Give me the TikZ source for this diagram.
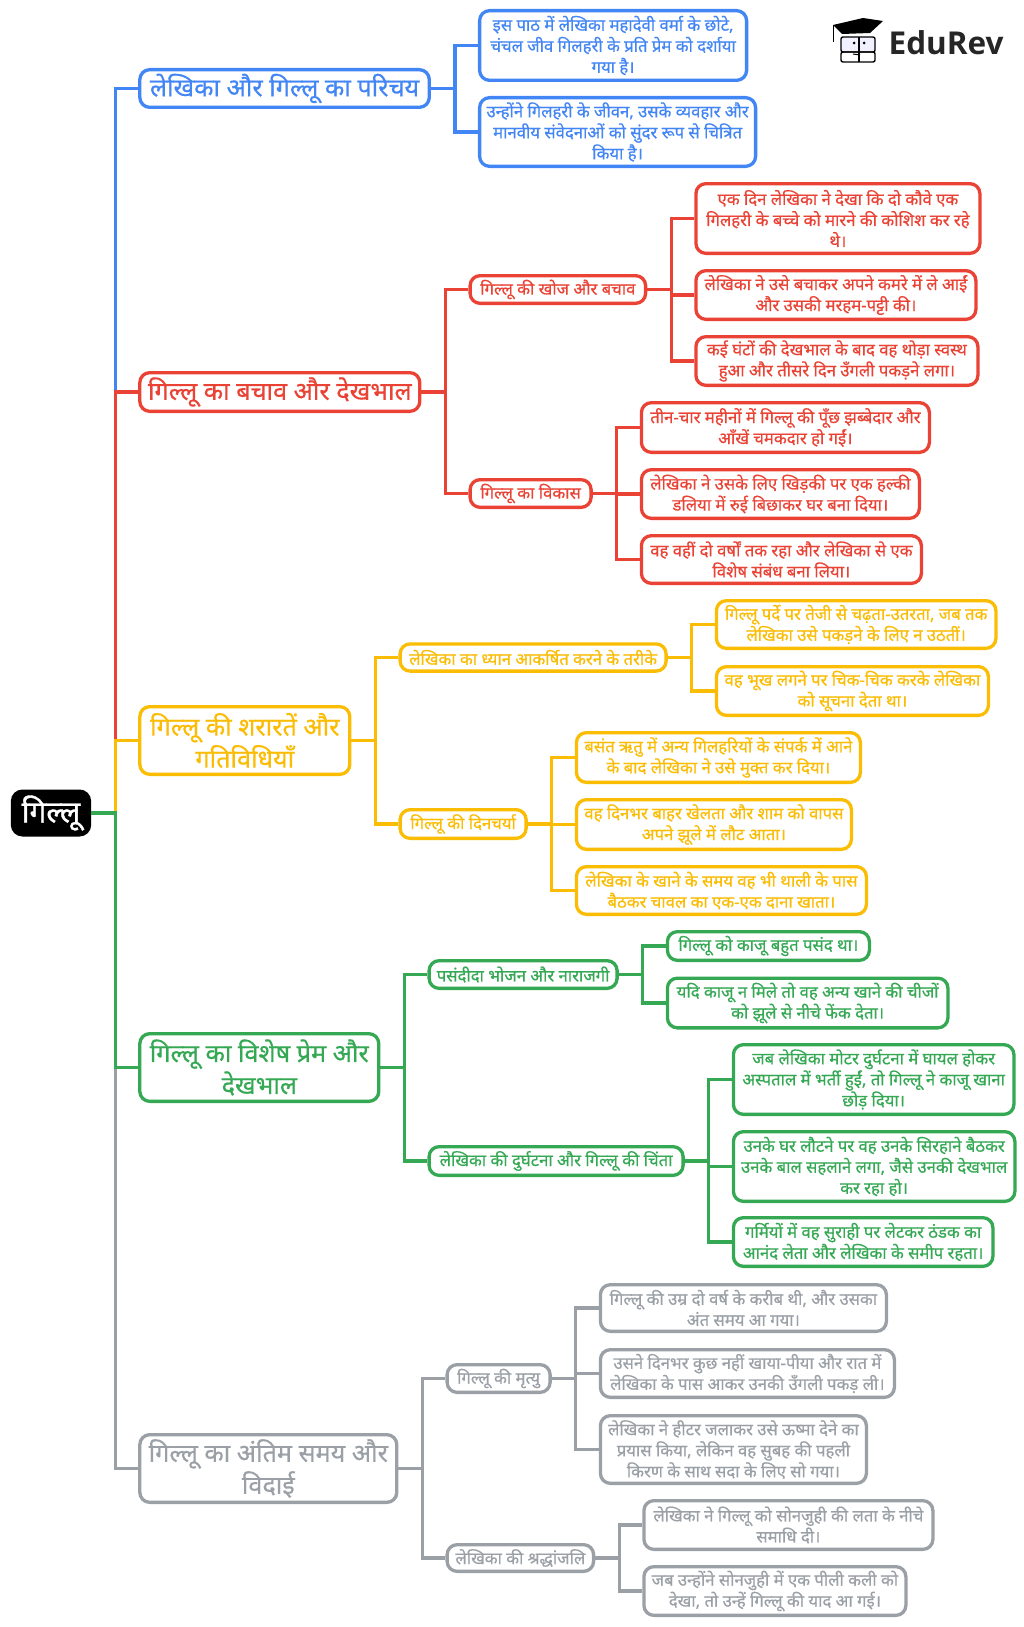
\documentclass[tikz,border=0pt]{standalone}
\usepackage{fontspec}
\setmainfont[Script=Devanagari,FakeBold=0.5]{Noto Sans}
\newfontfamily\rootfont[Script=Devanagari,FakeBold=1.2]{Noto Sans}
\newfontfamily\logofont{Open Sans}
\usetikzlibrary{positioning}

\definecolor{gblue}{HTML}{4285F4}
\definecolor{gred}{HTML}{EA4335}
\definecolor{gyellow}{HTML}{FBBC04}
\definecolor{ggreen}{HTML}{34A853}
\definecolor{ggrey}{HTML}{9AA0A6}

\tikzset{sized/.style 2 args={minimum width=#1pt,minimum height={#2pt-3.3pt}}}

\begin{document}
\begin{tikzpicture}[
                            x=1pt,
                            y=-1pt,
                            node distance=47pt,
                            line width=3.3pt,
                            every edge/.style={draw,to path={(\tikztostart.east) -- ++(24pt,0) |- (\tikztotarget.west)}}
                        ]
                        \tikzstyle{every node}=[rounded corners=10pt,align=center,inner sep=0pt]
                        \tikzstyle{topic}=[draw,fill=white,font=\fontsize{25.2}{32}\selectfont]
                        \tikzstyle{branch}=[draw,fill=white,font=\fontsize{16.7}{21}\selectfont]
                        \tikzstyle{leaf}=[draw,fill=white,font=\fontsize{16.7}{21}\selectfont]

                        \useasboundingbox (0,0) rectangle (1024,1627);

                        \node[draw=black,fill=black,text=white,font=\rootfont\fontsize{30}{32}\selectfont,sized={77}{47}] (root) at (51,813) {गिल्लू};

                        % blue
                        \begin{scope}[color=gblue]
                        \node[topic,sized={289.5}{41}] (intro) [right=of root,yshift=724.5pt] {लेखिका और गिल्लू का परिचय};
                        \node[leaf,sized={267}{73}] (introa) [right=of intro,yshift=43pt] {इस पाठ में लेखिका महादेवी वर्मा के छोटे,\\चंचल जीव गिलहरी के प्रति प्रेम को दर्शाया\\गया है।};
                        \node[leaf,sized={276}{72}] (introb) [right=of intro,yshift=-43.5pt] {उन्होंने गिलहरी के जीवन, उसके व्यवहार और\\मानवीय संवेदनाओं को सुंदर रूप से चित्रित\\किया है।};
                        \path
                        (root) edge (intro)
                        (intro) edge (introa)
                        (intro) edge (introb)
                        ;
                        \end{scope}

                        % red
                        \begin{scope}[color=gred]
                        \node[topic,sized={280}{42}] (rescue) [right=of root,yshift=421pt] {गिल्लू का बचाव और देखभाल};
                        \node[branch,sized={175.5}{31}] (search) [right=of rescue,yshift=102.5pt] {गिल्लू की खोज और बचाव};
                        \node[branch,sized={121}{31}] (growth) [right=of rescue,yshift=-101.5pt] {गिल्लू का विकास};
                        \node[leaf,sized={284}{73}] (searcha) [right=of search,yshift=71pt] {एक दिन लेखिका ने देखा कि दो कौवे एक\\गिलहरी के बच्चे को मारने की कोशिश कर रहे\\थे।};
                        \node[leaf,sized={280}{52}] (searchb) [right=of search,yshift=-5.5pt] {लेखिका ने उसे बचाकर अपने कमरे में ले आईं\\और उसकी मरहम-पट्टी की।};
                        \node[leaf,sized={282}{52}] (searchc) [right=of search,yshift=-71.5pt] {कई घंटों की देखभाल के बाद वह थोड़ा स्वस्थ\\हुआ और तीसरे दिन उँगली पकड़ने लगा।};
                        \node[leaf,sized={288}{53}] (growtha) [right=of growth,yshift=66pt] {तीन-चार महीनों में गिल्लू की पूँछ झब्बेदार और\\आँखें चमकदार हो गईं।};
                        \node[leaf,sized={278}{52}] (growthb) [right=of growth,yshift=-0.5pt] {लेखिका ने उसके लिए खिड़की पर एक हल्की\\डलिया में रुई बिछाकर घर बना दिया।};
                        \node[leaf,sized={280}{51}] (growthc) [right=of growth,yshift=-66pt] {वह वहीं दो वर्षों तक रहा और लेखिका से एक\\विशेष संबंध बना लिया।};
                        \path
                        (root) edge (rescue)
                        (rescue) edge (search)
                        (rescue) edge (growth)
                        (search) edge (searcha)
                        (search) edge (searchb)
                        (search) edge (searchc)
                        (growth) edge (growtha)
                        (growth) edge (growthb)
                        (growth) edge (growthc)
                        ;
                        \end{scope}

                        % yellow
                        \begin{scope}[color=gyellow]
                        \node[topic,sized={210}{71}] (pranks) [right=of root,yshift=72.5pt] {गिल्लू की शरारतें और\\गतिविधियाँ};
                        \node[branch,sized={266}{30.5}] (notice) [right=of pranks,yshift=83pt] {लेखिका का ध्यान आकर्षित करने के तरीके};
                        \node[branch,sized={126}{32}] (routine) [right=of pranks,yshift=-83.5pt] {गिल्लू की दिनचर्या};
                        \node[leaf,sized={279.5}{51}] (noticea) [right=of notice,yshift=33pt] {गिल्लू पर्दे पर तेजी से चढ़ता-उतरता, जब तक\\लेखिका उसे पकड़ने के लिए न उठतीं।};
                        \node[leaf,sized={272}{52}] (noticeb) [right=of notice,yshift=-33.5pt] {वह भूख लगने पर चिक-चिक करके लेखिका\\को सूचना देता था।};
                        \node[leaf,sized={284}{53}] (routinea) [right=of routine,yshift=66.5pt] {बसंत ऋतु में अन्य गिलहरियों के संपर्क में आने\\के बाद लेखिका ने उसे मुक्त कर दिया।};
                        \node[leaf,sized={275}{53}] (routineb) [right=of routine,yshift=-0.5pt] {वह दिनभर बाहर खेलता और शाम को वापस\\अपने झूले में लौट आता।};
                        \node[leaf,sized={290}{51}] (routinec) [right=of routine,yshift=-66.5pt] {लेखिका के खाने के समय वह भी थाली के पास\\बैठकर चावल का एक-एक दाना खाता।};
                        \path
                        (root) edge (pranks)
                        (pranks) edge (notice)
                        (pranks) edge (routine)
                        (notice) edge (noticea)
                        (notice) edge (noticeb)
                        (routine) edge (routinea)
                        (routine) edge (routineb)
                        (routine) edge (routinec)
                        ;
                        \end{scope}

                        % grey
                        \begin{scope}[color=ggrey]
                        \node[topic,sized={257}{71}] (farewell) [right=of root,yshift=-655.5pt] {गिल्लू का अंतिम समय और\\विदाई};
                        \node[branch,sized={103}{31}] (death) [right=of farewell,yshift=90pt] {गिल्लू की मृत्यु};
                        \node[branch,sized={146.5}{30}] (tribute) [right=of farewell,yshift=-89.5pt] {लेखिका की श्रद्धांजलि};
                        \node[leaf,sized={286}{50}] (deatha) [right=of death,yshift=70.5pt] {गिल्लू की उम्र दो वर्ष के करीब थी, और उसका\\अंत समय आ गया।};
                        \node[leaf,sized={294}{51}] (deathb) [right=of death,yshift=5pt] {उसने दिनभर कुछ नहीं खाया-पीया और रात में\\लेखिका के पास आकर उनकी उँगली पकड़ ली।};
                        \node[leaf,sized={266}{71}] (deathc) [right=of death,yshift=-71pt] {लेखिका ने हीटर जलाकर उसे ऊष्मा देने का\\प्रयास किया, लेकिन वह सुबह की पहली\\किरण के साथ सदा के लिए सो गया।};
                        \node[leaf,sized={289}{52}] (tributea) [right=of tribute,yshift=33pt] {लेखिका ने गिल्लू को सोनजुही की लता के नीचे\\समाधि दी।};
                        \node[leaf,sized={262}{52}] (tributeb) [right=of tribute,yshift=-33pt] {जब उन्होंने सोनजुही में एक पीली कली को\\देखा, तो उन्हें गिल्लू की याद आ गई।};
                        \path
                        (root) edge (farewell)
                        (farewell) edge (death)
                        (farewell) edge (tribute)
                        (death) edge (deatha)
                        (death) edge (deathb)
                        (death) edge (deathc)
                        (tribute) edge (tributea)
                        (tribute) edge (tributeb)
                        ;
                        \end{scope}

                        % green
                        \begin{scope}[color=ggreen]
                        \node[topic,sized={239}{71}] (love) [right=of root,yshift=-254.5pt] {गिल्लू का विशेष प्रेम और\\देखभाल};
                        \node[branch,sized={188}{31}] (food) [right=of love,yshift=93pt] {पसंदीदा भोजन और नाराजगी};
                        \node[branch,sized={254}{32}] (accident) [right=of love,yshift=-93.5pt] {लेखिका की दुर्घटना और गिल्लू की चिंता};
                        \node[leaf,sized={202}{32}] (fooda) [right=of food,yshift=28.5pt] {गिल्लू को काजू बहुत पसंद था।};
                        \node[leaf,sized={280.5}{53}] (foodb) [right=of food,yshift=-28.5pt] {यदि काजू न मिले तो वह अन्य खाने की चीजों\\को झूले से नीचे फेंक देता।};
                        \node[leaf,sized={280.5}{73}] (accidenta) [right=of accident,yshift=81.5pt] {जब लेखिका मोटर दुर्घटना में घायल होकर\\अस्पताल में भर्ती हुईं, तो गिल्लू ने काजू खाना\\छोड़ दिया।};
                        \node[leaf,sized={281.5}{73}] (accidentb) [right=of accident,yshift=-5.5pt] {उनके घर लौटने पर वह उनके सिरहाने बैठकर\\उनके बाल सहलाने लगा, जैसे उनकी देखभाल\\कर रहा हो।};
                        \node[leaf,sized={259.5}{52}] (accidentc) [right=of accident,yshift=-81pt] {गर्मियों में वह सुराही पर लेटकर ठंडक का\\आनंद लेता और लेखिका के समीप रहता।};
                        \path
                        (root) edge (love)
                        (love) edge (food)
                        (love) edge (accident)
                        (food) edge (fooda)
                        (food) edge (foodb)
                        (accident) edge (accidenta)
                        (accident) edge (accidentb)
                        (accident) edge (accidentc)
                        ;
                        \end{scope}

                        % logo
                        \fill[black] (833,25) -- (863,18) -- (883,21) -- (870,33) -- (842,34) -- cycle;
                        \draw[black,line width=1pt] (833,25) -- (833,42);
                        \draw[black,line width=1.4pt,fill=blue!6,rounded corners=2pt] (841,37) rectangle (875,52);
                        \draw[black,line width=1.4pt,rounded corners=2pt] (841,52) rectangle (875,62);
                        \draw[black,line width=1.2pt] (859,37) -- (859,62);
                        \fill[black] (854,43) circle (1.5pt) (864,43) circle (1.5pt);
                        \draw[black,line width=1pt] (853,54) -- (860,55);
                        \node[font=\logofont\fontsize{31.5}{32}\bfseries\selectfont,text=black!85,anchor=base west] (logo) at (887,55) {EduRev};
                    \end{tikzpicture}
\end{document}
